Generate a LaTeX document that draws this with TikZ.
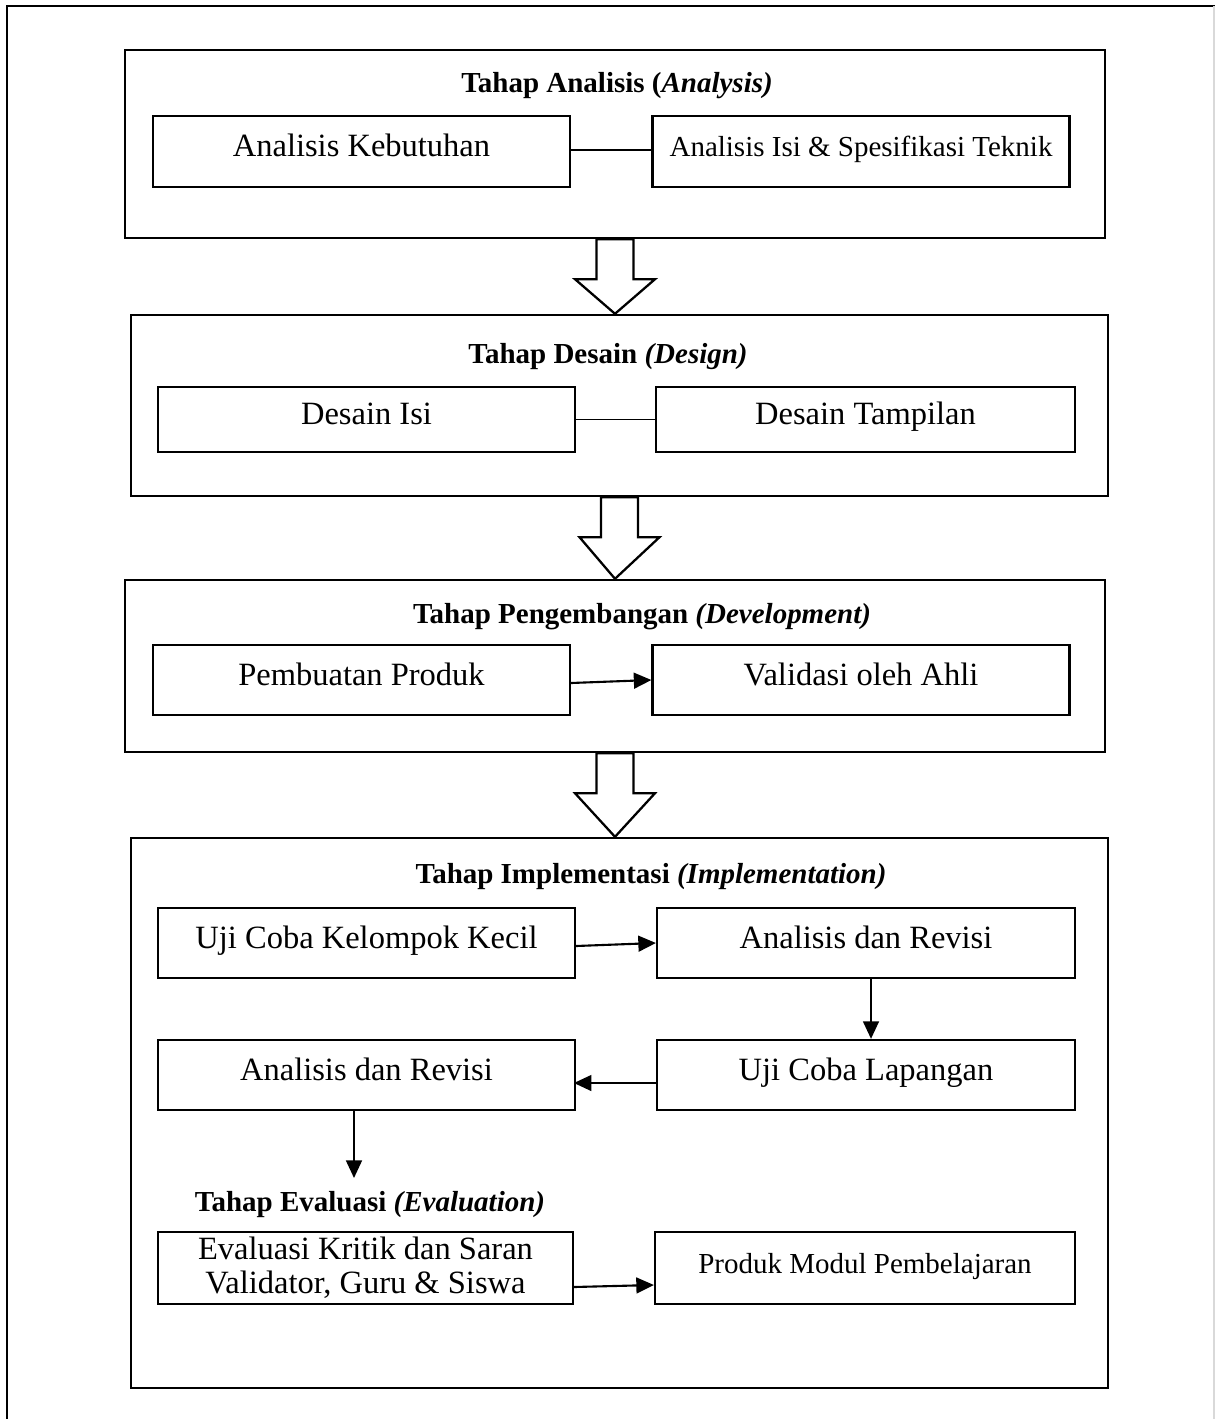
\documentclass[tikz,border=0pt]{standalone}
\usepackage{fontspec}
\setmainfont{Liberation Serif}
\usetikzlibrary{arrows.meta,calc}
\begin{document}
\begin{tikzpicture}[x=0.02cm,y=-0.02cm,
  outerbox/.style={draw,line width=1.4pt,inner sep=0pt},
  inbox/.style={draw,line width=1.3pt,inner sep=0pt,minimum width=8.34cm,align=center,font=\fontsize{18.5}{22}\selectfont},
  up/.style={text height=12pt,text depth=6pt},
  ttl/.style={inner sep=0pt,font=\fontsize{16.5}{20}\selectfont\bfseries},
  link/.style={line width=0.6pt},
  arr/.style={line width=1.2pt,-{Triangle[length=10pt,width=9pt]}},
  blk/.style={draw,line width=1.3pt,fill=white,line join=miter}
]
\useasboundingbox (0,0) rectangle (1215,1419);
% outer frame (open bottom)
\draw[line width=1.4pt] (7,1419) -- (7,6) -- (1215,6);
\draw[line width=0.6pt,black!15] (1214,6) -- (1214,1419);

% ---------- Analysis ----------
\node[outerbox,minimum width=19.6cm,minimum height=3.76cm] (b1) at (615,144) {};
\node[ttl] (t1) at (617,86) {Tahap Analisis (\textit{Analysis)}};
\node[inbox,up,minimum height=1.42cm] (a1) at (361.5,151.5) {Analisis Kebutuhan};
\node[inbox,up,minimum height=1.42cm,font=\fontsize{16.5}{20}\selectfont] (a2) at (861,151.5) {Analisis Isi \& Spesifikasi Teknik};
\draw[link] ($(a1.east)+(0,-1.5)$) -- ($(a2.west)+(0,-1.5)$);

% ---------- Design ----------
\node[outerbox,minimum width=19.54cm,minimum height=3.62cm] (b2) at (619.5,405.5) {};
\node[ttl] (t2) at (608,357) {Tahap Desain \textit{(Design)}};
\node[inbox,up,minimum height=1.3cm] (d1) at (366.5,419.5) {Desain Isi};
\node[inbox,up,minimum height=1.3cm,minimum width=8.38cm] (d2) at (865.5,419.5) {Desain Tampilan};
\draw[link] (d1.east) -- (d2.west);

% ---------- Development ----------
\node[outerbox,minimum width=19.6cm,minimum height=3.44cm] (b3) at (615,666) {};
\node[ttl] (t3) at (642,617) {Tahap Pengembangan \textit{(Development)}};
\node[inbox,up,minimum height=1.4cm] (p1) at (361.5,680) {Pembuatan Produk};
\node[inbox,up,minimum height=1.4cm] (p2) at (861,680) {Validasi oleh Ahli};
\draw[arr] ($(p1.east)+(0,3)$) -- (p2.west);

% ---------- Implementation ----------
\node[outerbox,minimum width=19.54cm,minimum height=11cm] (b4) at (619.5,1113) {};
\node[ttl] (t4) at (651,877) {Tahap Implementasi \textit{(Implementation)}};
\node[inbox,up,minimum height=1.4cm] (i1) at (366.5,943) {Uji Coba Kelompok Kecil};
\node[inbox,up,minimum height=1.4cm,minimum width=8.36cm] (i2) at (866,943) {Analisis dan Revisi};
\node[inbox,up,minimum height=1.4cm] (i3) at (366.5,1075) {Analisis dan Revisi};
\node[inbox,up,minimum height=1.4cm,minimum width=8.36cm] (i4) at (866,1075) {Uji Coba Lapangan};
\draw[arr] ($(i1.east)+(0,3)$) -- (i2.west);
\draw[arr] (i2.south -| 871,0) -- (i4.north -| 871,0);
\draw[arr] ($(i4.west)+(0,8)$) -- ($(i3.west)+(417,8)$);
\coordinate (ev) at (354,1178);
\draw[arr] (i3.south -| 354,0) -- (ev);
\node[ttl] (t5) at (370,1205) {Tahap Evaluasi \textit{(Evaluation)}};
\node[inbox,minimum height=1.44cm,minimum width=8.3cm,font=\fontsize{18.5}{19.5}\selectfont] (e1) at (365.5,1268) {Evaluasi Kritik dan Saran\\Validator, Guru \& Siswa};
\node[inbox,up,minimum height=1.44cm,minimum width=8.4cm,font=\fontsize{16.5}{20}\selectfont] (e2) at (865,1268) {Produk Modul Pembelajaran};
\draw[arr] ($(e1.east)+(0,19)$) -- ($(e2.west)+(0,17)$);

% ---------- block arrows ----------
\foreach \u/\l in {b1/b2,b2/b3,b3/b4}{
  \draw[blk] let \p1=(\u.south), \p2=(\l.north) in
    ($(\p1)+(-0.37cm,0)$) -- ($(\p1)+(0.37cm,0)$) --
    ($(\p1)+(0.37cm,-0.8cm)$) -- ($(\p1)+(0.8cm,-0.8cm)$) --
    (615,0 |- \p2) -- ($(\p1)+(-0.8cm,-0.8cm)$) -- ($(\p1)+(-0.37cm,-0.8cm)$) -- cycle;
}
\end{tikzpicture}
\end{document}
